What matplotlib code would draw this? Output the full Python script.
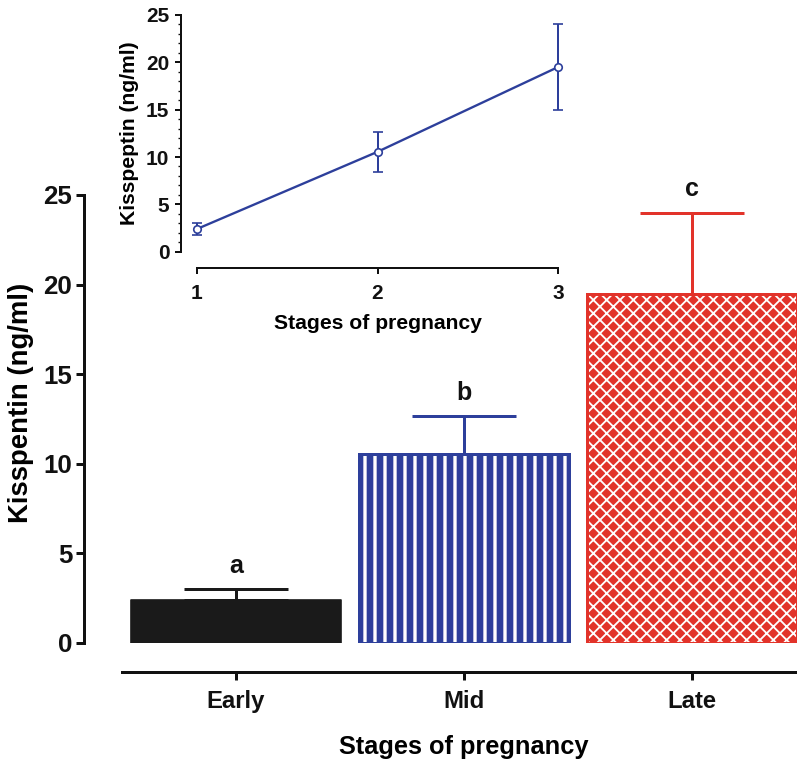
import matplotlib
matplotlib.use("Agg")
import matplotlib.pyplot as plt
import numpy as np

plt.rcParams['font.family'] = ['Liberation Sans', 'DejaVu Sans']
plt.rcParams['font.weight'] = 'bold'

# serum kisspeptin by stage of pregnancy (mean, SEM)
stages = ['Early', 'Mid', 'Late']
stage_num = [1, 2, 3]
kiss_mean = [2.4, 10.55, 19.5]
kiss_sem = [0.6, 2.1, 4.5]
sig_letters = ['a', 'b', 'c']

BLUE = '#2d3f9b'
RED = '#e2332a'
DARK = '#1a1a1a'

DPI = 120
fig = plt.figure(figsize=(797 / DPI, 763 / DPI), dpi=DPI)

# ---- main bar chart ----
ax = fig.add_axes([122 / 797, 1 - 643 / 763, 684 / 797, 448 / 763])
x = np.arange(len(stages))
w = 0.92

ax.bar(x[0], kiss_mean[0], w, color=DARK, edgecolor=DARK, lw=1, joinstyle='round', zorder=2)
# mid: blue with white vertical stripes
mid = ax.bar(x[1], kiss_mean[1], w, color=BLUE, edgecolor='white', lw=0, hatch='||', zorder=2)
ax.bar(x[1], kiss_mean[1], w, fill=False, edgecolor=BLUE, lw=1.8, zorder=3)
# late: red with white diamond lattice
late = ax.bar(x[2], kiss_mean[2], w, color=RED, edgecolor='white', lw=0, hatch='xxx', zorder=2)
ax.bar(x[2], kiss_mean[2], w, fill=False, edgecolor=RED, lw=1.8, zorder=3)
for p in mid:
    p.set_hatch_linewidth(2.0)
for p in late:
    p.set_hatch_linewidth(1.1)

for xi, m, s, c, lab in zip(x, kiss_mean, kiss_sem, [DARK, BLUE, RED], sig_letters):
    ax.errorbar(xi, m, yerr=[[0], [s]], fmt='none', ecolor=c, elinewidth=1.8,
                capsize=w * 228 / 4 * 0.6, capthick=1.8, zorder=1)
    ax.annotate(lab, (xi, m + s), xytext=(0, 7), textcoords='offset points',
                ha='center', va='bottom', fontsize=15, fontweight='bold', color='#111111')

ax.set_xlim(-0.5, 2.5)
ax.set_ylim(0, 25)
ax.set_yticks([0, 5, 10, 15, 20, 25])
ax.set_xticks(x)
ax.set_xticklabels(stages)
for side in ['top', 'right']:
    ax.spines[side].set_visible(False)
ax.spines['left'].set_position(('outward', 38 * 0.6))
ax.spines['bottom'].set_position(('outward', 29 * 0.6))
ax.spines['left'].set_bounds(0, 25)
for side in ['left', 'bottom']:
    ax.spines[side].set_linewidth(1.8)
    ax.spines[side].set_color('#111111')
ax.tick_params(axis='both', width=1.8, length=5, colors='#111111')
ax.tick_params(axis='x', labelsize=14.3, pad=6)
ax.tick_params(axis='y', labelsize=15.5, pad=2)
ax.set_ylabel('Kisspentin (ng/ml)', fontsize=16.5, fontweight='bold')
ax.set_xlabel('Stages of pregnancy', fontsize=15.2, fontweight='bold')
ax.yaxis.set_label_coords(-0.128, 0.535)
ax.xaxis.set_label_coords(0.5, -0.205)

# ---- inset line chart ----
ins = fig.add_axes([197 / 797, 1 - 251.7 / 763, 361 / 797, 236.7 / 763])
ins.errorbar(stage_num, kiss_mean, yerr=kiss_sem, color=BLUE, lw=1.4,
             marker='o', ms=4.5, mfc='white', mec=BLUE, mew=1,
             ecolor=BLUE, elinewidth=1.2, capsize=3, capthick=1.2, clip_on=False)
ins.set_xlim(1, 3)
ins.set_ylim(0, 25)
ins.set_xticks(stage_num)
ins.set_yticks([0, 5, 10, 15, 20, 25])
ins.set_yticks(np.arange(0, 26, 1), minor=True)
for side in ['top', 'right']:
    ins.spines[side].set_visible(False)
ins.spines['left'].set_position(('outward', 16 * 0.6))
ins.spines['bottom'].set_position(('outward', 16 * 0.6))
for side in ['left', 'bottom']:
    ins.spines[side].set_linewidth(1.2)
    ins.spines[side].set_color('#111111')
ins.tick_params(axis='both', which='major', width=1.2, length=3.5, labelsize=12.5, colors='#111111')
ins.tick_params(axis='y', which='minor', width=0.8, length=2, colors='#111111')
ins.tick_params(axis='x', pad=6)
ins.set_ylabel('Kisspeptin (ng/ml)', fontsize=12.7, fontweight='bold')
ins.set_xlabel('Stages of pregnancy', fontsize=12.7, fontweight='bold')
ins.yaxis.set_label_coords(-0.16, 0.5)
ins.xaxis.set_label_coords(0.5, -0.262)

fig.savefig('out.png', dpi=DPI)
